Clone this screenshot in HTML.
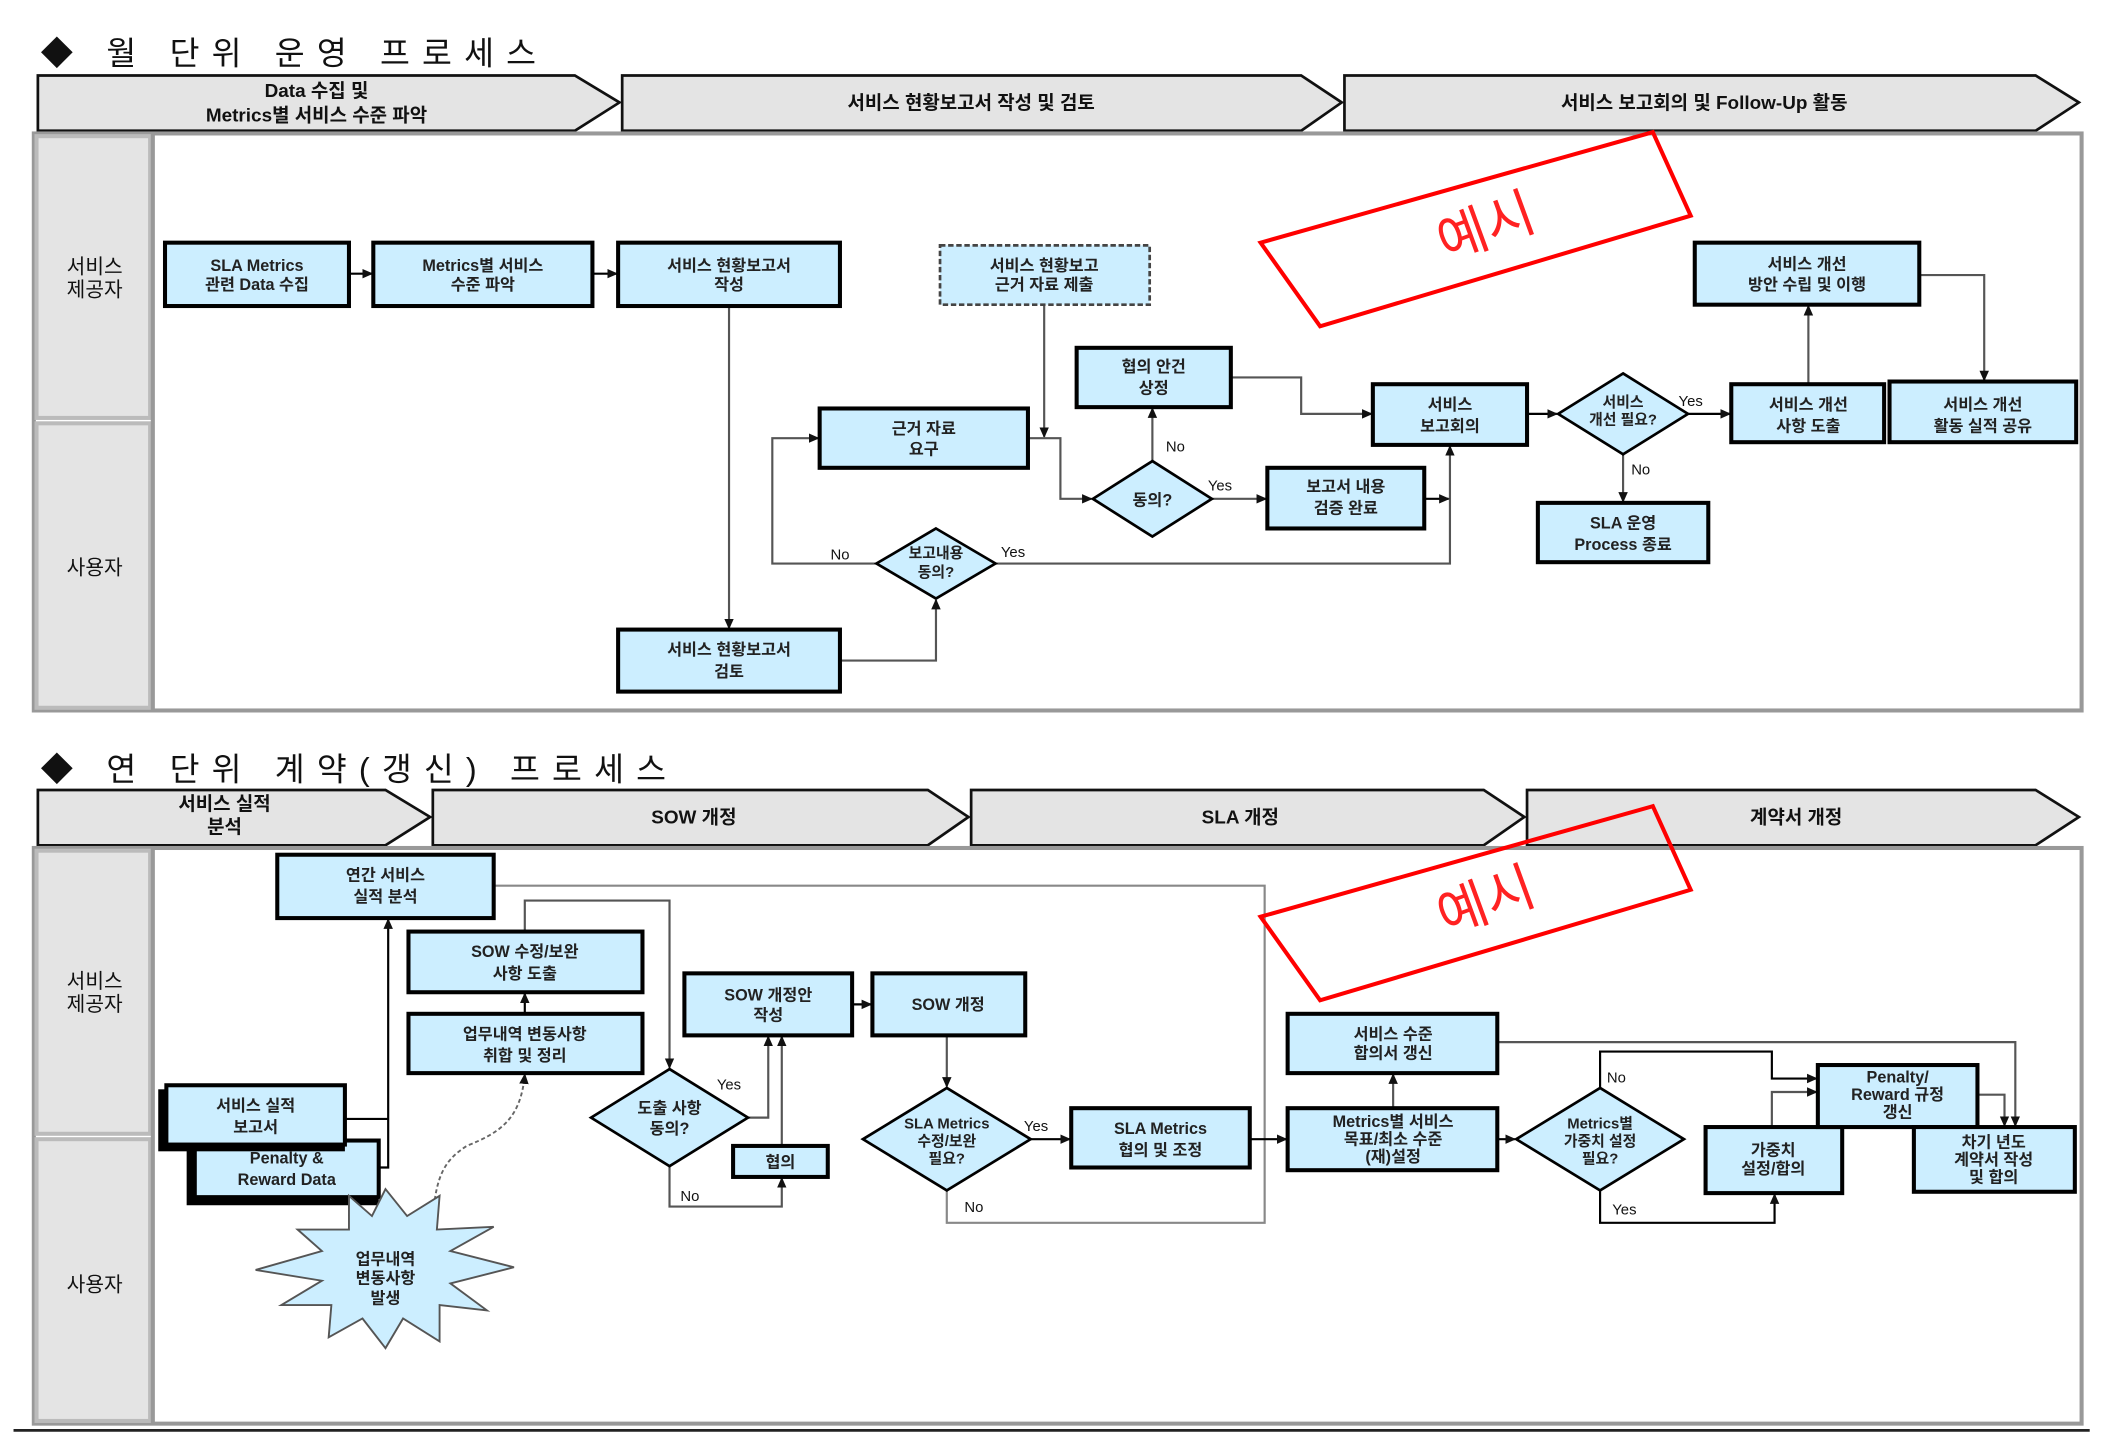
<!DOCTYPE html>
<html><head><meta charset="utf-8"><style>
html,body{margin:0;padding:0;background:#fff;}
svg{display:block;}
text{font-family:"Liberation Sans","Noto Sans CJK KR",sans-serif;}
.b{fill:#cceeff;stroke:#000;stroke-width:3;}
.t{font-size:12px;font-weight:bold;fill:#222;text-anchor:middle;}
.l{fill:none;stroke:#555;stroke-width:1.6;}
.k{fill:none;stroke:#000;stroke-width:1.6;}
.g{fill:none;stroke:#888;stroke-width:1.6;}
.lab{font-size:11px;fill:#111;}
.ch{fill:#e4e4e4;stroke:#111;stroke-width:2;}
.ht{font-size:14px;font-weight:bold;fill:#111;text-anchor:middle;}
.ln{font-size:15px;fill:#111;text-anchor:middle;}
.ti{font-size:24px;fill:#111;letter-spacing:9px;}
</style></head><body>
<svg width="2110" height="1456" viewBox="0 0 1560 1080" preserveAspectRatio="none" xmlns="http://www.w3.org/2000/svg">
<defs>
<marker id="a" markerWidth="8" markerHeight="8" refX="7" refY="4" orient="auto" markerUnits="userSpaceOnUse"><path d="M0,0.5 L8,4 L0,7.5z" fill="#111"/></marker>
</defs>

<!-- ===== Section 1 ===== -->
<text x="30" y="48" class="ti">◆ 월 단위 운영 프로세스</text>
<polygon class="ch" points="28,56 425,56 458,76 425,97 28,97"/>
<polygon class="ch" points="460,56 962,56 992,76 962,97 460,97"/>
<polygon class="ch" points="994,56 1505,56 1537,76 1505,97 994,97"/>
<text class="ht" x="234" y="72">Data 수집 및</text>
<text class="ht" x="234" y="90">Metrics별 서비스 수준 파악</text>
<text class="ht" x="718" y="81">서비스 현황보고서 작성 및 검토</text>
<text class="ht" x="1260" y="81">서비스 보고회의 및 Follow-Up 활동</text>

<rect x="25" y="99" width="1514" height="428" fill="#fff" stroke="#999" stroke-width="3"/>
<rect x="27" y="101" width="84" height="209" fill="#e4e4e4" stroke="#bbb" stroke-width="3"/>
<rect x="27" y="314" width="84" height="211" fill="#e4e4e4" stroke="#bbb" stroke-width="3"/>
<line x1="113" y1="99" x2="113" y2="527" stroke="#999" stroke-width="3"/>
<text class="ln" x="70" y="203">서비스</text><text class="ln" x="70" y="220">제공자</text>
<text class="ln" x="70" y="426">사용자</text>

<line class="k" x1="258" y1="203" x2="275" y2="203" marker-end="url(#a)"/>
<line class="k" x1="438" y1="203" x2="456" y2="203" marker-end="url(#a)"/>
<line class="l" x1="539" y1="227" x2="539" y2="466" marker-end="url(#a)"/>
<polyline class="l" points="621,490 692,490 692,445" marker-end="url(#a)"/>
<polyline class="l" points="648,418 571,418 571,325 605,325" marker-end="url(#a)"/>
<polyline class="l" points="736,418 1072,418 1072,331" marker-end="url(#a)"/>
<line class="l" x1="772" y1="226" x2="772" y2="324" marker-end="url(#a)"/>
<polyline class="l" points="760,325 784,325 784,370 807,370" marker-end="url(#a)"/>
<line class="l" x1="852" y1="342" x2="852" y2="303" marker-end="url(#a)"/>
<line class="l" x1="896" y1="370" x2="936" y2="370" marker-end="url(#a)"/>
<line class="k" x1="1053" y1="370" x2="1071" y2="370" marker-end="url(#a)"/>
<polyline class="l" points="910,280 962,280 962,307 1014,307" marker-end="url(#a)"/>
<line class="k" x1="1129" y1="307" x2="1151" y2="307" marker-end="url(#a)"/>
<line class="k" x1="1248" y1="307" x2="1279" y2="307" marker-end="url(#a)"/>
<line class="l" x1="1200" y1="337" x2="1200" y2="372" marker-end="url(#a)"/>
<line class="l" x1="1337" y1="285" x2="1337" y2="227" marker-end="url(#a)"/>
<polyline class="l" points="1419,204 1467,204 1467,282" marker-end="url(#a)"/>

<text class="lab" x="614" y="415">No</text>
<text class="lab" x="740" y="413">Yes</text>
<text class="lab" x="862" y="335">No</text>
<text class="lab" x="893" y="364">Yes</text>
<text class="lab" x="1241" y="301">Yes</text>
<text class="lab" x="1206" y="352">No</text>

<rect class="b" x="122" y="180" width="136" height="47"/>
<text class="t" x="190" y="201">SLA Metrics</text><text class="t" x="190" y="215">관련 Data 수집</text>
<rect class="b" x="276" y="180" width="162" height="47"/>
<text class="t" x="357" y="201">Metrics별 서비스</text><text class="t" x="357" y="215">수준 파악</text>
<rect class="b" x="457" y="180" width="164" height="47"/>
<text class="t" x="539" y="201">서비스 현황보고서</text><text class="t" x="539" y="215">작성</text>
<rect x="695" y="182" width="155" height="44" fill="#cceeff" stroke="#444" stroke-width="2" stroke-dasharray="4,2"/>
<text class="t" x="772" y="201">서비스 현황보고</text><text class="t" x="772" y="215">근거 자료 제출</text>
<rect class="b" x="606" y="303" width="154" height="44"/>
<text class="t" x="683" y="322">근거 자료</text><text class="t" x="683" y="337">요구</text>
<rect class="b" x="796" y="258" width="114" height="44"/>
<text class="t" x="853" y="276">협의 안건</text><text class="t" x="853" y="292">상정</text>
<polygon class="b" style="stroke-width:2" points="852,342 896,370 852,398 808,370"/>
<text class="t" x="852" y="375">동의?</text>
<rect class="b" x="937" y="347" width="116" height="45"/>
<text class="t" x="995" y="365">보고서 내용</text><text class="t" x="995" y="381">검증 완료</text>
<rect class="b" x="1015" y="285" width="114" height="45"/>
<text class="t" x="1072" y="304">서비스</text><text class="t" x="1072" y="320">보고회의</text>
<polygon class="b" style="stroke-width:2" points="1200,277 1248,307 1200,337 1152,307"/>
<text class="t" x="1200" y="302" style="font-size:11px">서비스</text><text class="t" x="1200" y="315" style="font-size:11px">개선 필요?</text>
<rect class="b" x="1280" y="285" width="113" height="43"/>
<text class="t" x="1337" y="304">서비스 개선</text><text class="t" x="1337" y="320">사항 도출</text>
<rect class="b" x="1397" y="283" width="138" height="45"/>
<text class="t" x="1466" y="304">서비스 개선</text><text class="t" x="1466" y="320">활동 실적 공유</text>
<rect class="b" x="1253" y="180" width="166" height="46"/>
<text class="t" x="1336" y="200">서비스 개선</text><text class="t" x="1336" y="215">방안 수립 및 이행</text>
<rect class="b" x="1137" y="373" width="126" height="44"/>
<text class="t" x="1200" y="392">SLA 운영</text><text class="t" x="1200" y="408">Process 종료</text>
<polygon class="b" style="stroke-width:2" points="692,392 736,418 692,444 648,418"/>
<text class="t" x="692" y="414" style="font-size:11px">보고내용</text><text class="t" x="692" y="428" style="font-size:11px">동의?</text>
<rect class="b" x="457" y="467" width="164" height="46"/>
<text class="t" x="539" y="486">서비스 현황보고서</text><text class="t" x="539" y="502">검토</text>

<polygon points="932,180 1222,98 1250,160 976,242" fill="none" stroke="#ff0000" stroke-width="3"/>
<text x="1100" y="182" transform="rotate(-20 1100 172)" style="font-size:40px;fill:#ff2222;text-anchor:middle;">예시</text>

<!-- ===== Section 2 ===== -->
<text x="30" y="579" class="ti">◆ 연 단위 계약(갱신) 프로세스</text>
<polygon class="ch" points="28,586 285,586 318,606 285,627 28,627"/>
<polygon class="ch" points="320,586 686,586 716,606 686,627 320,627"/>
<polygon class="ch" points="718,586 1097,586 1127,606 1097,627 718,627"/>
<polygon class="ch" points="1129,586 1505,586 1537,606 1505,627 1129,627"/>
<text class="ht" x="166" y="601">서비스 실적</text><text class="ht" x="166" y="618">분석</text>
<text class="ht" x="513" y="611">SOW 개정</text>
<text class="ht" x="917" y="611">SLA 개정</text>
<text class="ht" x="1328" y="611">계약서 개정</text>

<rect x="25" y="629" width="1514" height="427" fill="#fff" stroke="#999" stroke-width="3"/>
<rect x="27" y="631" width="84" height="210" fill="#e4e4e4" stroke="#bbb" stroke-width="3"/>
<rect x="27" y="845" width="84" height="209" fill="#e4e4e4" stroke="#bbb" stroke-width="3"/>
<line x1="113" y1="629" x2="113" y2="1056" stroke="#999" stroke-width="3"/>
<text class="ln" x="70" y="733">서비스</text><text class="ln" x="70" y="750">제공자</text>
<text class="ln" x="70" y="958">사용자</text>
<line x1="10" y1="1061" x2="1545" y2="1061" stroke="#222" stroke-width="2"/>

<polyline class="g" points="365,657 935,657 935,907 700,907 700,883"/>
<polyline class="k" points="255,830 287,830"/>
<polyline class="k" points="280,866 287,866 287,682" marker-end="url(#a)"/>
<line class="k" x1="388" y1="752" x2="388" y2="737" marker-end="url(#a)"/>
<path d="M320,905 C322,870 330,860 345,850 C370,840 385,830 388,797" fill="none" stroke="#666" stroke-width="1.4" stroke-dasharray="3,2" marker-end="url(#a)"/>
<polyline class="l" points="388,691 388,668 495,668 495,792" marker-end="url(#a)"/>
<polyline class="l" points="553,829 568,829 568,769" marker-end="url(#a)"/>
<polyline class="l" points="495,865 495,895 578,895 578,874" marker-end="url(#a)"/>
<line class="l" x1="578" y1="850" x2="578" y2="769" marker-end="url(#a)"/>
<line class="k" x1="630" y1="745" x2="644" y2="745" marker-end="url(#a)"/>
<line class="l" x1="700" y1="768" x2="700" y2="806" marker-end="url(#a)"/>
<line class="k" x1="762" y1="845" x2="791" y2="845" marker-end="url(#a)"/>
<line class="k" x1="924" y1="845" x2="951" y2="845" marker-end="url(#a)"/>
<line class="l" x1="1030" y1="822" x2="1030" y2="797" marker-end="url(#a)"/>
<line class="k" x1="1107" y1="845" x2="1120" y2="845" marker-end="url(#a)"/>
<polyline class="l" points="1107,773 1490,773 1490,835" marker-end="url(#a)"/>
<polyline class="k" points="1183,807 1183,780 1310,780 1310,800 1343,800" marker-end="url(#a)"/>
<polyline class="k" points="1183,883 1183,907 1312,907 1312,886" marker-end="url(#a)"/>
<polyline class="l" points="1310,836 1310,810 1343,810" marker-end="url(#a)"/>
<polyline class="l" points="1462,812 1482,812 1482,835" marker-end="url(#a)"/>

<text class="lab" x="530" y="808">Yes</text>
<text class="lab" x="503" y="891">No</text>
<text class="lab" x="757" y="839">Yes</text>
<text class="lab" x="713" y="899">No</text>
<text class="lab" x="1188" y="803">No</text>
<text class="lab" x="1192" y="901">Yes</text>

<rect class="b" x="205" y="634" width="160" height="47"/>
<text class="t" x="285" y="653">연간 서비스</text><text class="t" x="285" y="669">실적 분석</text>
<rect class="b" x="302" y="691" width="173" height="45"/>
<text class="t" x="388" y="710">SOW 수정/보완</text><text class="t" x="388" y="726">사항 도출</text>
<rect class="b" x="302" y="752" width="173" height="44"/>
<text class="t" x="388" y="771">업무내역 변동사항</text><text class="t" x="388" y="787">취합 및 정리</text>
<rect x="138" y="850" width="142" height="44" fill="#000"/>
<rect class="b" x="144" y="846" width="136" height="42"/>
<text class="t" x="212" y="863">Penalty &amp;</text><text class="t" x="212" y="879">Reward Data</text>
<rect x="117" y="808" width="138" height="46" fill="#000"/>
<rect class="b" x="123" y="805" width="132" height="44"/>
<text class="t" x="189" y="824">서비스 실적</text><text class="t" x="189" y="840">보고서</text>
<polygon points="285,882 301,902 325,887 323,912 365,910 333,928 380,940 333,952 360,972 325,968 325,995 298,978 285,1000 268,978 243,992 245,968 208,968 238,950 189,942 238,928 220,912 258,912 258,887 275,902" fill="#cceeff" stroke="#555" stroke-width="1.4"/>
<text class="t" x="285" y="938">업무내역</text><text class="t" x="285" y="952">변동사항</text><text class="t" x="285" y="967">발생</text>
<polygon class="b" style="stroke-width:2" points="495,793 553,829 495,865 437,829"/>
<text class="t" x="495" y="826">도출 사항</text><text class="t" x="495" y="841">동의?</text>
<rect class="b" x="506" y="722" width="124" height="46"/>
<text class="t" x="568" y="742">SOW 개정안</text><text class="t" x="568" y="757">작성</text>
<rect class="b" x="645" y="722" width="113" height="46"/>
<text class="t" x="701" y="749">SOW 개정</text>
<rect class="b" x="542" y="850" width="70" height="23"/>
<text class="t" x="577" y="866">협의</text>
<polygon class="b" style="stroke-width:2" points="700,807 762,845 700,883 638,845"/>
<text class="t" x="700" y="837" style="font-size:11px">SLA Metrics</text><text class="t" x="700" y="850" style="font-size:11px">수정/보완</text><text class="t" x="700" y="863" style="font-size:11px">필요?</text>
<rect class="b" x="792" y="822" width="132" height="44"/>
<text class="t" x="858" y="841">SLA Metrics</text><text class="t" x="858" y="857">협의 및 조정</text>
<rect class="b" x="952" y="822" width="155" height="46"/>
<text class="t" x="1030" y="836">Metrics별 서비스</text><text class="t" x="1030" y="849">목표/최소 수준</text><text class="t" x="1030" y="862">(재)설정</text>
<rect class="b" x="952" y="752" width="155" height="44"/>
<text class="t" x="1030" y="771">서비스 수준</text><text class="t" x="1030" y="785">합의서 갱신</text>
<polygon class="b" style="stroke-width:2" points="1183,807 1245,845 1183,883 1121,845"/>
<text class="t" x="1183" y="837" style="font-size:11px">Metrics별</text><text class="t" x="1183" y="850" style="font-size:11px">가중치 설정</text><text class="t" x="1183" y="863" style="font-size:11px">필요?</text>
<rect class="b" x="1261" y="836" width="101" height="49"/>
<text class="t" x="1311" y="857">가중치</text><text class="t" x="1311" y="871">설정/합의</text>
<rect class="b" x="1344" y="790" width="118" height="46"/>
<text class="t" x="1403" y="803">Penalty/</text><text class="t" x="1403" y="816">Reward 규정</text><text class="t" x="1403" y="829">갱신</text>
<rect class="b" x="1415" y="836" width="119" height="48"/>
<text class="t" x="1474" y="851">차기 년도</text><text class="t" x="1474" y="864">계약서 작성</text><text class="t" x="1474" y="877">및 합의</text>

<polygon points="932,680 1222,598 1250,660 976,742" fill="none" stroke="#ff0000" stroke-width="3"/>
<text x="1100" y="682" transform="rotate(-20 1100 672)" style="font-size:40px;fill:#ff2222;text-anchor:middle;">예시</text>
</svg>
</body></html>
